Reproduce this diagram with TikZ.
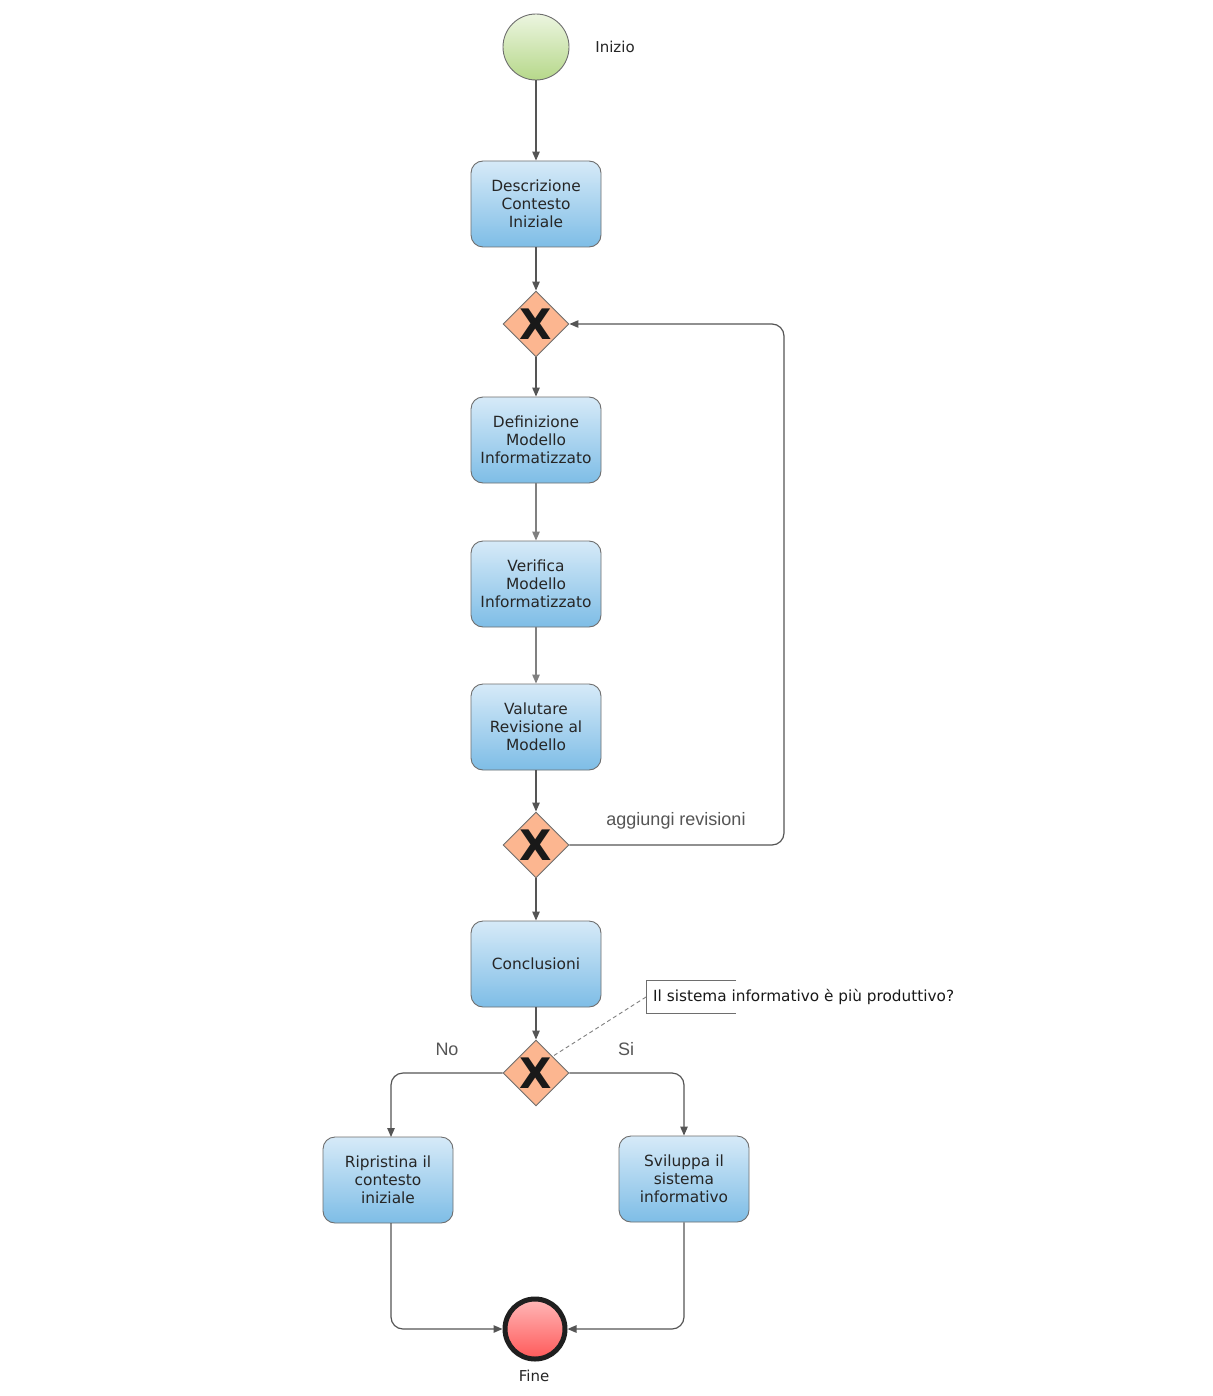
\documentclass[tikz,border=0pt]{standalone}
\usepackage{fontspec}
\setmainfont{DejaVu Sans}
\newfontfamily\arialfont{Liberation Sans}
\usetikzlibrary{shapes.geometric,arrows.meta}

\definecolor{taskTop}{RGB}{214,234,248}
\definecolor{taskBot}{RGB}{126,189,230}
\definecolor{gateFill}{RGB}{252,182,144}
\definecolor{startTop}{RGB}{236,245,224}
\definecolor{startBot}{RGB}{182,216,138}
\definecolor{endTop}{RGB}{255,184,184}
\definecolor{endBot}{RGB}{255,88,88}
\definecolor{lineCol}{RGB}{85,85,85}
\definecolor{lineLight}{RGB}{128,128,128}
\definecolor{borderCol}{RGB}{110,110,110}
\definecolor{labelCol}{RGB}{85,85,85}

\begin{document}
\begin{tikzpicture}[x=1pt,y=-1pt,
  task/.style={draw=borderCol, line width=0.9pt, rounded corners=12pt,
    minimum width=130pt, minimum height=86pt, inner sep=0pt,
    top color=taskTop, bottom color=taskBot, align=center, text=black!85,
    font=\fontsize{15.4}{18}\selectfont},
  gateway/.style={diamond, draw=borderCol, line width=0.9pt, fill=gateFill,
    minimum width=66pt, minimum height=66pt, inner sep=0pt,
    font=\fontsize{42}{42}\selectfont\bfseries, text=black!90},
  startev/.style={circle, draw=borderCol, line width=0.9pt, minimum size=66pt,
    inner sep=0pt, top color=startTop, bottom color=startBot},
  endev/.style={circle, draw=black!88, line width=5pt, minimum size=60pt,
    inner sep=0pt, top color=endTop, bottom color=endBot},
  evlabel/.style={font=\fontsize{15}{18}\selectfont, text=black!85},
  flowlabel/.style={font=\arialfont\fontsize{18}{21}\selectfont, text=labelCol},
  flow/.style={draw=lineCol, line width=1.2pt, rounded corners=12pt,
    -{Triangle[length=9pt,width=7.5pt]}},
  flowlight/.style={flow, draw=lineLight},
  note/.style={draw=borderCol, line width=0.9pt},
  assoc/.style={draw=lineLight, line width=0.9pt, dash pattern=on 4pt off 3pt}
]
\useasboundingbox[fill=white] (0,0) rectangle (1212,1396);

% events
\node[startev] (start) at (536,47) {};
\node[evlabel] (inizio) at (615,47) {Inizio};
\node[endev] (finish) at (535,1329) {};
\node[evlabel] (fine) at (534,1376) {Fine};

% activities
\node[task] (t1) at (536,204) {Descrizione\\Contesto\\Iniziale};
\node[task] (t2) at (536,440) {Definizione\\Modello\\Informatizzato};
\node[task] (t3) at (536,584) {Verifica\\Modello\\Informatizzato};
\node[task] (t4) at (536,727) {Valutare\\Revisione al\\Modello};
\node[task] (t5) at (536,964) {Conclusioni};
\node[task] (t6) at (388,1180) {Ripristina il\\contesto\\iniziale};
\node[task] (t7) at (684,1179) {Sviluppa il\\sistema\\informativo};

% gateways
\node[gateway] (g1) at (536,324) {X};
\node[gateway] (g2) at (536,845) {X};
\node[gateway] (g3) at (536,1073) {X};

% sequence flows
\draw[flow] (start) -- (t1);
\draw[flow] (t1) -- (g1);
\draw[flow] (g1) -- (t2);
\draw[flowlight] (t2) -- (t3);
\draw[flowlight] (t3) -- (t4);
\draw[flow] (t4) -- (g2);
\draw[flow] (g2) -- (t5);
\draw[flow] (t5) -- (g3);

% revision loop
\coordinate (loopx) at (784,0);
\draw[flow] (g2.east) -- (g2.east -| loopx) -- (g1.east -| loopx) -- (g1.east);
\node[flowlabel] (lblrev) at (676,821) {aggiungi revisioni};

% decision branches
\coordinate (t6top) at (391,1137);
\coordinate (t6bot) at (391,1223);
\draw[flow] (g3.west) -| (t6top);
\draw[flow] (g3.east) -| (t7.north);
\draw[flow] (t6bot) |- (finish.west);
\draw[flow] (t7.south) |- (finish.east);
\node[flowlabel] (lblno) at (447,1049) {No};
\node[flowlabel] (lblsi) at (626,1049) {Si};

% text annotation
\node[anchor=west, inner sep=0pt, font=\fontsize{15.3}{18}\selectfont, text=black!90]
  (question) at (653,997) {Il sistema informativo è più produttivo?};
\coordinate (qa) at (736,980);
\coordinate (qb) at (646,980);
\coordinate (qc) at (646,1013);
\coordinate (qd) at (736,1013);
\coordinate (qmid) at (646,997);
\draw[note] (qa) -- (qb) -- (qc) -- (qd);
\draw[assoc] (qmid) -- (g3.north east);
\end{tikzpicture}
\end{document}
